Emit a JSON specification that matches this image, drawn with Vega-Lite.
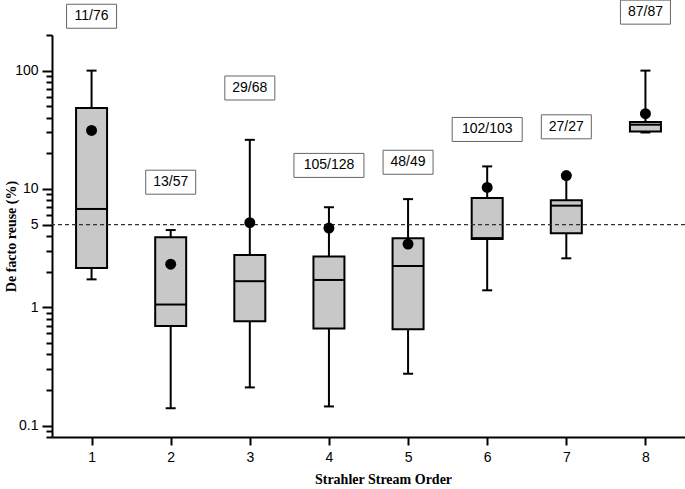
{
  "$schema": "https://vega.github.io/schema/vega-lite/v6.json",
  "width": 633,
  "height": 402,
  "autosize": {"type": "none"},
  "padding": {"left": 52, "top": 35, "right": 0, "bottom": 52},
  "background": "white",
  "config": {
    "view": {"stroke": null},
    "axis": {
      "grid": false,
      "domainColor": "black",
      "domainWidth": 2,
      "tickColor": "black",
      "tickWidth": 2,
      "labelFont": "Liberation Sans",
      "labelFontSize": 14,
      "labelColor": "black",
      "titleFont": "Liberation Serif",
      "titleFontSize": 14,
      "titleFontWeight": "bold",
      "titleColor": "black"
    }
  },
  "data": {
    "values": [
      {"order": 1, "lower": 1.72, "q1": 2.15, "median": 6.77, "q3": 48.3, "upper": 100, "mean": 31.2, "label": "11/76", "label_at": 288},
      {"order": 2, "lower": 0.14, "q1": 0.695, "median": 1.054, "q3": 3.9, "upper": 4.49, "mean": 2.31, "label": "13/57", "label_at": 11.4},
      {"order": 3, "lower": 0.21, "q1": 0.76, "median": 1.66, "q3": 2.77, "upper": 26.0, "mean": 5.18, "label": "29/68", "label_at": 71.3},
      {"order": 4, "lower": 0.145, "q1": 0.66, "median": 1.7, "q3": 2.69, "upper": 7.0, "mean": 4.67, "label": "105/128", "label_at": 15.8},
      {"order": 5, "lower": 0.274, "q1": 0.65, "median": 2.23, "q3": 3.82, "upper": 8.2, "mean": 3.42, "label": "48/49", "label_at": 16.8},
      {"order": 6, "lower": 1.39, "q1": 3.77, "median": 3.84, "q3": 8.39, "upper": 15.5, "mean": 10.3, "label": "102/103", "label_at": 31.8},
      {"order": 7, "lower": 2.59, "q1": 4.21, "median": 7.22, "q3": 8.02, "upper": 12.97, "mean": 12.97, "label": "27/27", "label_at": 33.5},
      {"order": 8, "lower": 30.0, "q1": 30.6, "median": 34.9, "q3": 36.7, "upper": 100, "mean": 43.2, "label": "87/87", "label_at": 312}
    ]
  },
  "layer": [
    {
      "mark": {"type": "rule", "color": "black", "strokeWidth": 2},
      "encoding": {
        "x": {
          "field": "order", "type": "quantitative",
          "scale": {"domain": [0.5, 8.5], "nice": false, "zero": false},
          "axis": {"values": [1, 2, 3, 4, 5, 6, 7, 8], "format": "d", "tickSize": 8, "labelPadding": 5, "titlePadding": 8, "titleX": 331},
          "title": "Strahler Stream Order"
        },
        "y": {
          "field": "lower", "type": "quantitative",
          "scale": {"type": "log", "domain": [0.08, 200], "nice": false},
          "axis": {
            "values": [0.08, 0.09, 0.1, 0.2, 0.3, 0.4, 0.5, 0.6, 0.7, 0.8, 0.9, 1, 2, 3, 4, 5, 6, 7, 8, 9, 10, 20, 30, 40, 50, 60, 70, 80, 90, 100, 200],
            "labelExpr": "(datum.value == 0.1 || datum.value == 1 || datum.value == 5 || datum.value == 10 || datum.value == 100) ? format(datum.value, '~g') : ''",
            "tickSize": {"condition": {"test": "datum.value == 0.1 || datum.value == 1 || datum.value == 5 || datum.value == 10 || datum.value == 100", "value": 10}, "value": 6},
            "labelPadding": 4,
            "titleX": -41,
            "titleY": 201,
            "titleBaseline": "middle",
            "titleAngle": -90
          },
          "title": "De facto reuse (%)"
        },
        "y2": {"field": "upper"}
      }
    },
    {
      "mark": {"type": "rule", "color": "black", "strokeWidth": 2, "xOffset": -5, "x2Offset": 5},
      "encoding": {
        "x": {"field": "order", "type": "quantitative", "title": "Strahler Stream Order"},
        "x2": {"field": "order"},
        "y": {"field": "upper", "type": "quantitative", "title": "De facto reuse (%)"}
      }
    },
    {
      "mark": {"type": "rule", "color": "black", "strokeWidth": 2, "xOffset": -5, "x2Offset": 5},
      "encoding": {
        "x": {"field": "order", "type": "quantitative", "title": "Strahler Stream Order"},
        "x2": {"field": "order"},
        "y": {"field": "lower", "type": "quantitative", "title": "De facto reuse (%)"}
      }
    },
    {
      "mark": {"type": "rect", "fill": "#c8c8c8", "stroke": "black", "strokeWidth": 2, "xOffset": -15.5, "x2Offset": 15.5},
      "encoding": {
        "x": {"field": "order", "type": "quantitative", "title": "Strahler Stream Order"},
        "x2": {"field": "order"},
        "y": {"field": "q1", "type": "quantitative", "title": "De facto reuse (%)"},
        "y2": {"field": "q3"}
      }
    },
    {
      "mark": {"type": "rule", "color": "black", "strokeWidth": 2, "xOffset": -15.5, "x2Offset": 15.5},
      "encoding": {
        "x": {"field": "order", "type": "quantitative", "title": "Strahler Stream Order"},
        "x2": {"field": "order"},
        "y": {"field": "median", "type": "quantitative", "title": "De facto reuse (%)"}
      }
    },
    {
      "mark": {"type": "rule", "color": "#333333", "strokeWidth": 1, "strokeDash": [4, 3]},
      "encoding": {
        "y": {"datum": 5, "type": "quantitative", "title": "De facto reuse (%)"}
      }
    },
    {
      "mark": {"type": "point", "filled": true, "color": "black", "opacity": 1, "size": 120},
      "encoding": {
        "x": {"field": "order", "type": "quantitative", "title": "Strahler Stream Order"},
        "y": {"field": "mean", "type": "quantitative", "title": "De facto reuse (%)"}
      }
    },
    {
      "transform": [{"filter": "length(datum.label) <= 5"}],
      "mark": {"type": "rect", "fill": "white", "stroke": "#666666", "strokeWidth": 1, "xOffset": -25, "x2Offset": 25, "yOffset": -12, "y2Offset": 12},
      "encoding": {
        "x": {"field": "order", "type": "quantitative", "title": "Strahler Stream Order"},
        "x2": {"field": "order"},
        "y": {"field": "label_at", "type": "quantitative", "title": "De facto reuse (%)"},
        "y2": {"field": "label_at"}
      }
    },
    {
      "transform": [{"filter": "length(datum.label) > 5"}],
      "mark": {"type": "rect", "fill": "white", "stroke": "#666666", "strokeWidth": 1, "xOffset": -35, "x2Offset": 35, "yOffset": -12, "y2Offset": 12},
      "encoding": {
        "x": {"field": "order", "type": "quantitative", "title": "Strahler Stream Order"},
        "x2": {"field": "order"},
        "y": {"field": "label_at", "type": "quantitative", "title": "De facto reuse (%)"},
        "y2": {"field": "label_at"}
      }
    },
    {
      "mark": {"type": "text", "font": "Liberation Sans", "fontSize": 14, "color": "black", "align": "center", "baseline": "middle"},
      "encoding": {
        "x": {"field": "order", "type": "quantitative", "title": "Strahler Stream Order"},
        "y": {"field": "label_at", "type": "quantitative", "title": "De facto reuse (%)"},
        "text": {"field": "label"}
      }
    }
  ]
}
